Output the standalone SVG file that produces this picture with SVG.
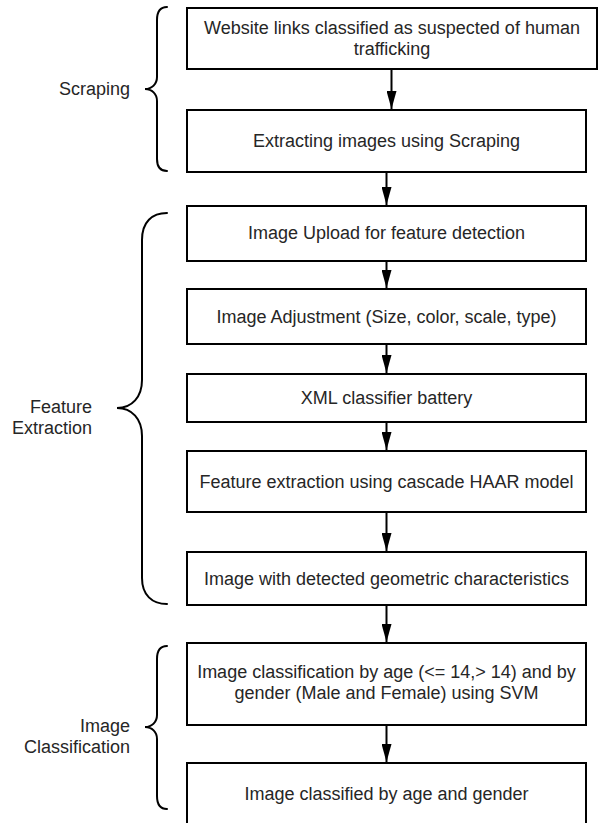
<svg xmlns="http://www.w3.org/2000/svg" width="599" height="823" viewBox="0 0 599 823">
  <style>
    .box { fill: #ffffff; stroke: #000000; stroke-width: 2; }
    .lbl { font-family: "Liberation Sans", Arial, sans-serif; font-size: 18px; fill: #262626; }
    .mid { text-anchor: middle; }
    .end { text-anchor: end; }
    .edge { fill: none; stroke: #000000; stroke-width: 2; }
    .brace { fill: none; stroke: #000000; stroke-width: 2; stroke-linecap: round; }
  </style>
  <defs>
    <marker id="arrowhead" viewBox="0 0 18 10" refX="18" refY="5" markerWidth="18" markerHeight="10" markerUnits="userSpaceOnUse" orient="auto">
      <path d="M0,0 L18,5 L0,10 Z" fill="#000000"/>
    </marker>
  </defs>
  <rect width="599" height="823" fill="#ffffff"/>

  <!-- Stage labels with curly braces -->
  <g id="stage-scraping">
    <path class="brace" d="M167,7 C160,7 157,12 157,20 L157,77 C157,84 152,89 145,89 C152,89 157,94 157,101 L157,159 C157,166 160,171 167,171"/>
    <text class="lbl end" x="130" y="95">Scraping</text>
  </g>
  <g id="stage-feature-extraction">
    <path class="brace" d="M167,213 C152,213 142,222 142,240 L142,380 C142,397 132,408 117,408 C132,408 142,419 142,436 L142,578 C142,595 152,604 167,604"/>
    <text class="lbl end" x="92" y="413">Feature</text>
    <text class="lbl end" x="92" y="434">Extraction</text>
  </g>
  <g id="stage-image-classification">
    <path class="brace" d="M167,646 C160,646 157,651 157,659 L157,715 C157,722 152,727 145,727 C152,727 157,732 157,739 L157,796 C157,804 160,809 167,809"/>
    <text class="lbl end" x="130" y="732">Image</text>
    <text class="lbl end" x="130" y="753">Classification</text>
  </g>

  <!-- Process steps -->
  <g id="step-links">
    <rect class="box" x="187" y="8" width="410" height="61"/>
    <text class="lbl mid" x="392" y="34">Website links classified as suspected of human</text>
    <text class="lbl mid" x="392" y="55">trafficking</text>
  </g>
  <g id="step-extract">
    <rect class="box" x="187" y="110" width="399" height="62"/>
    <text class="lbl mid" x="386.5" y="147">Extracting images using Scraping</text>
  </g>
  <g id="step-upload">
    <rect class="box" x="187" y="206" width="399" height="55"/>
    <text class="lbl mid" x="386.5" y="239">Image Upload for feature detection</text>
  </g>
  <g id="step-adjust">
    <rect class="box" x="187" y="289" width="399" height="55"/>
    <text class="lbl mid" x="386.5" y="323">Image Adjustment (Size, color, scale, type)</text>
  </g>
  <g id="step-xml">
    <rect class="box" x="187" y="374" width="399" height="48"/>
    <text class="lbl mid" x="386.5" y="404">XML classifier battery</text>
  </g>
  <g id="step-haar">
    <rect class="box" x="187" y="451" width="399" height="61"/>
    <text class="lbl mid" x="386.5" y="488">Feature extraction using cascade HAAR model</text>
  </g>
  <g id="step-geometric">
    <rect class="box" x="187" y="552" width="399" height="53"/>
    <text class="lbl mid" x="386.5" y="585">Image with detected geometric characteristics</text>
  </g>
  <g id="step-svm">
    <rect class="box" x="187" y="643" width="399" height="82"/>
    <text class="lbl mid" x="386.5" y="678">Image classification by age (&lt;= 14,&gt; 14) and by</text>
    <text class="lbl mid" x="386.5" y="699">gender (Male and Female) using SVM</text>
  </g>
  <g id="step-result">
    <rect class="box" x="187" y="763" width="399" height="62"/>
    <text class="lbl mid" x="386.5" y="800">Image classified by age and gender</text>
  </g>

  <!-- Connectors -->
  <g id="connectors">
    <line class="edge" x1="391.5" y1="69" x2="391.5" y2="109" marker-end="url(#arrowhead)"/>
    <line class="edge" x1="386.5" y1="172" x2="386.5" y2="205" marker-end="url(#arrowhead)"/>
    <line class="edge" x1="386.5" y1="261" x2="386.5" y2="288" marker-end="url(#arrowhead)"/>
    <line class="edge" x1="386.5" y1="344" x2="386.5" y2="373" marker-end="url(#arrowhead)"/>
    <line class="edge" x1="386.5" y1="422" x2="386.5" y2="450" marker-end="url(#arrowhead)"/>
    <line class="edge" x1="386.5" y1="512" x2="386.5" y2="551" marker-end="url(#arrowhead)"/>
    <line class="edge" x1="386.5" y1="605" x2="386.5" y2="642" marker-end="url(#arrowhead)"/>
    <line class="edge" x1="386.5" y1="725" x2="386.5" y2="762" marker-end="url(#arrowhead)"/>
  </g>
</svg>
